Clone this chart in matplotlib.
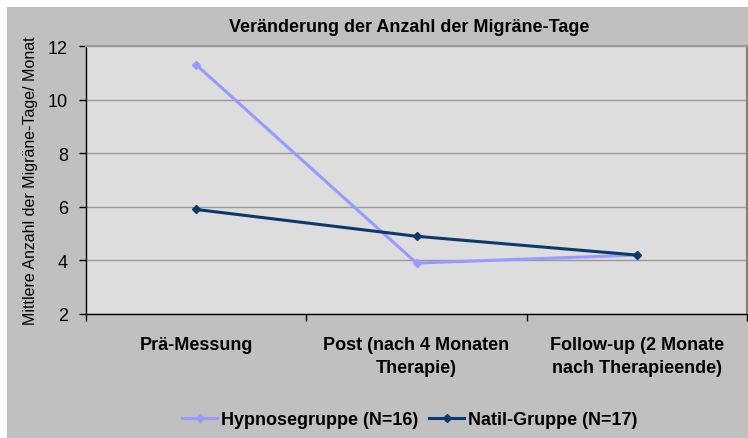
import matplotlib
matplotlib.use("Agg")
import matplotlib.pyplot as plt
from matplotlib.patches import Rectangle

plt.rcParams['font.family'] = ['Liberation Sans', 'DejaVu Sans']

categories = ["Prä-Messung", "Post (nach 4 Monaten\nTherapie)", "Follow-up (2 Monate\nnach Therapieende)"]
hypnose = [11.3, 3.9, 4.2]
natil = [5.9, 4.9, 4.2]
series_names = ["Hypnosegruppe (N=16)", "Natil-Gruppe (N=17)"]
yticks = [2, 4, 6, 8, 10, 12]

W, H = 748, 439
fig = plt.figure(figsize=(W / 100, H / 100), dpi=100)
fig.patch.set_facecolor('white')
fig.patches.append(Rectangle((7 / W, 0), 1 - 7 / W, 1 - 8 / H, transform=fig.transFigure,
                             facecolor='#c0c0c0', edgecolor='none', zorder=-10))

ax = fig.add_axes([86 / W, (H - 315) / H, (747 - 86) / W, (315 - 47) / H])
ax.set_zorder(1)
ax.set_facecolor('#dddddd')

x = list(range(len(categories)))
ax.plot(x, hypnose, color='#9999ff', lw=2.2, marker='D', ms=4.5, label=series_names[0], zorder=3)
ax.plot(x, natil, color='#0b3a6a', lw=2.2, marker='D', ms=4.5, label=series_names[1], zorder=4)

ax.set_ylim(2, 12)
ax.set_yticks(yticks)
ax.set_yticklabels([str(v) for v in yticks], fontsize=13)
ax.tick_params(axis='y', direction='out', length=5, width=1, pad=8, colors='black')
ax.yaxis.grid(True, color='#999999', lw=1)
ax.set_axisbelow(True)

ax.set_xlim(-0.5, len(categories) - 0.5)
ax.set_xticks([i - 0.5 for i in range(len(categories) + 1)])
ax.set_xticklabels([])
ax.tick_params(axis='x', which='major', direction='out', length=5, width=1)
ax.set_xticks(x, minor=True)
ax.set_xticklabels(categories, minor=True, fontsize=13, fontweight='bold', linespacing=1.45)
ax.tick_params(axis='x', which='minor', length=0, pad=16)

for s in ['left', 'bottom']:
    ax.spines[s].set_color('black')
    ax.spines[s].set_linewidth(1)
ax.spines['top'].set_color('#999999')
ax.spines['top'].set_linewidth(1.5)
ax.spines['right'].set_color('#808080')
ax.spines['right'].set_linewidth(1.5)

ax.set_ylabel("Mittlere Anzahl der Migräne-Tage/ Monat", fontsize=11.5)
ax.yaxis.set_label_coords(-(86 - 38) / (747 - 86), 0.5)

fig.text(409 / W, 1 - 27 / H, "Veränderung der Anzahl der Migräne-Tage", ha='center', va='center',
         fontsize=13, fontweight='bold')

fig.legend(loc='center', bbox_to_anchor=(410 / W, 1 - 421 / H), ncol=2, frameon=False,
           prop={'size': 13, 'weight': 'bold'}, handlelength=1.9, handletextpad=0.25,
           columnspacing=0.6, borderpad=0)

fig.savefig("out.png", dpi=100, facecolor=fig.get_facecolor())
